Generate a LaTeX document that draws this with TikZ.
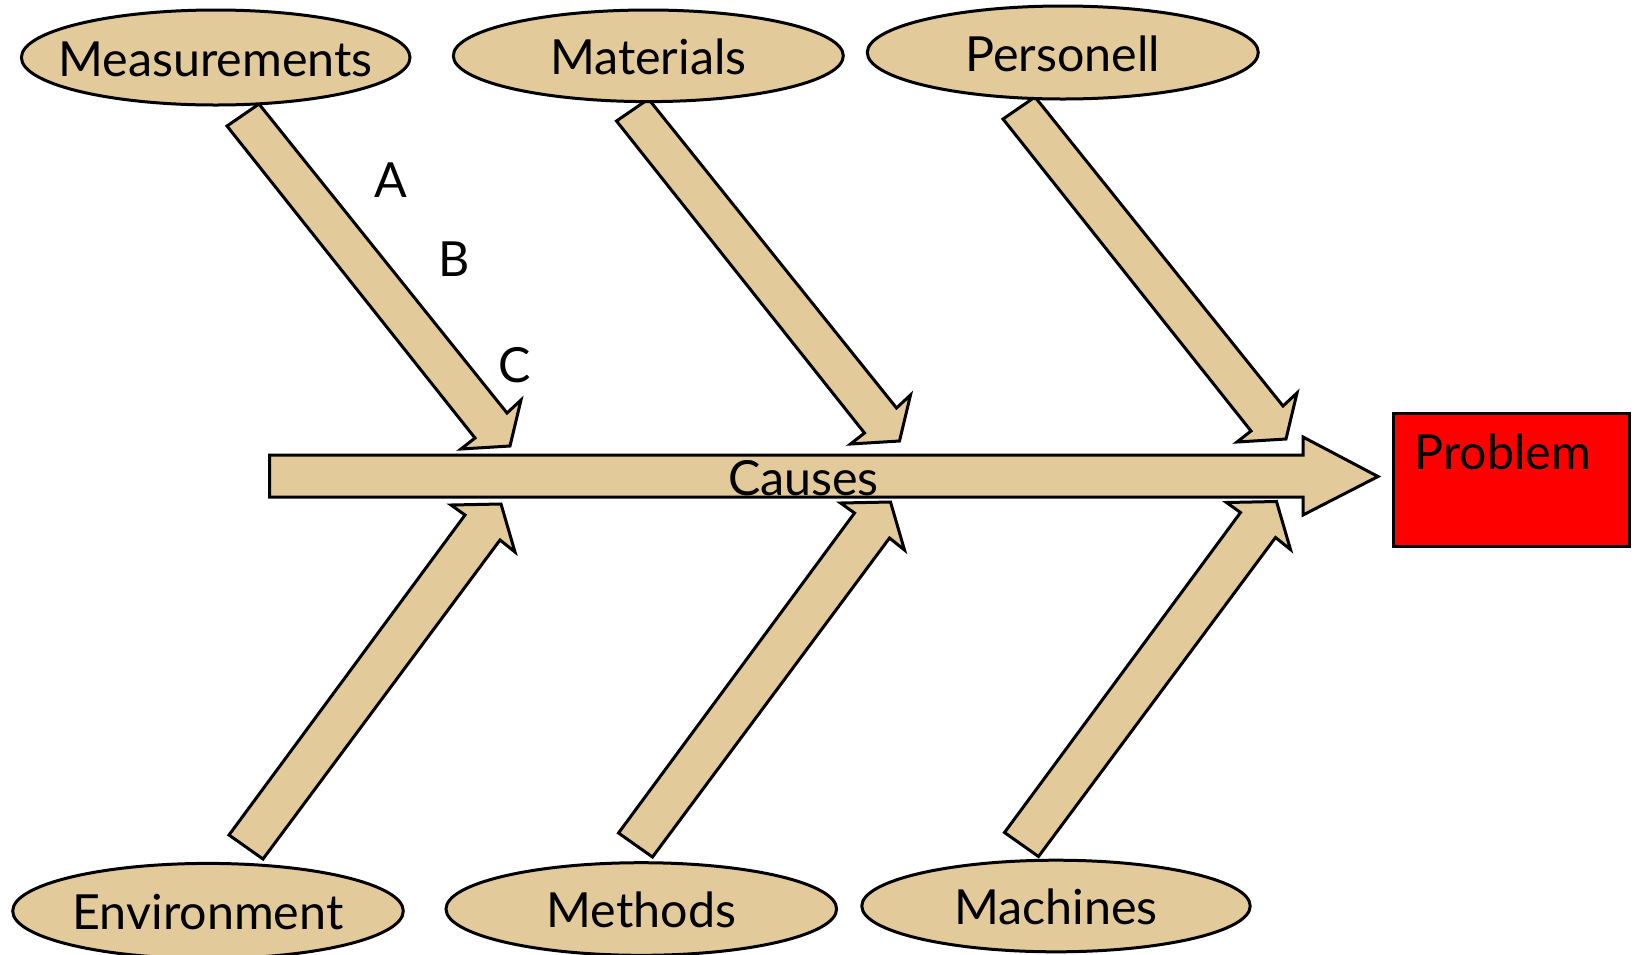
\documentclass[tikz,border=0pt]{standalone}
\usepackage{fontspec}
\setmainfont{Lato}
\usetikzlibrary{shapes.geometric}
\definecolor{fishtan}{HTML}{E3CA9A}
\definecolor{probred}{HTML}{FF0000}
\begin{document}
\begin{tikzpicture}[x=0.5bp,y=-0.5bp,line width=1.5bp,
  txt/.style={font=\fontsize{24.2bp}{28bp}\selectfont,inner sep=0pt},
  cause/.style={ellipse,draw,fill=fishtan,inner sep=0pt,text height=18.5bp,text depth=0pt,font=\fontsize{24.2bp}{28bp}\selectfont},
  shapefill/.style={draw,fill=fishtan,line join=miter},
  toparrow/.pic={\path[shapefill] (259,104) -- (507,413) -- (521,400) -- (510,446) -- (461,449) -- (475,438) -- (227,126) -- cycle;},
  botarrow/.pic={\path[shapefill] (229,835) -- (465,515) -- (451,505) -- (501,504) -- (515,552) -- (500,540) -- (263,859) -- cycle;}
]
\useasboundingbox (0,0) rectangle (1638,954);
% fishbone arrows
\pic at (0,0) {toparrow};
\pic at (389.5,-5) {toparrow};
\pic at (776,-7) {toparrow};
\pic at (0,0) {botarrow};
\pic at (389.5,-2) {botarrow};
\pic at (775.5,-2.5) {botarrow};
% main spine
\path[shapefill] (269.5,455) -- (1303,455) -- (1303,437) -- (1378,476.5) -- (1303,515) -- (1303,497) -- (269.5,497) -- cycle;
\node[txt,anchor=base] (causes) at (803.5,495) {Causes};
% cause ellipses
\node[cause,minimum width=194.3bp,minimum height=47.5bp] (meas) at (215.7,57.5) {\makebox[0pt]{Measurements}};
\node[cause,minimum width=195bp,minimum height=45.8bp] (mat) at (648.3,55.8) {\makebox[0pt]{Materials}};
\node[cause,minimum width=195.5bp,minimum height=46.5bp] (pers) at (1062.8,52.5) {\makebox[0pt]{Personell}};
\node[cause,minimum width=195.3bp,minimum height=47.6bp] (env) at (208,911) {\makebox[0pt]{Environment}};
\node[cause,minimum width=195.3bp,minimum height=46.3bp] (meth) at (641.3,909) {\makebox[0pt]{Methods}};
\node[cause,minimum width=194.2bp,minimum height=45.8bp] (mach) at (1056,906) {\makebox[0pt]{Machines}};
% sub-causes
\node[txt,anchor=base] (subA) at (390.4,197) {A};
\node[txt,anchor=base] (subB) at (454.3,276) {B};
\node[txt,anchor=base] (subC) at (514.3,382) {C};
% problem box
\node[draw,fill=probred,inner sep=0pt,anchor=north west,text height=28.3bp,text depth=38.35bp,
      font=\fontsize{24.2bp}{28bp}\selectfont] (prob) at (1391.7,411.7)
      {\makebox[118.3bp][l]{\hspace{10.65bp}Problem}};
\end{tikzpicture}
\end{document}
